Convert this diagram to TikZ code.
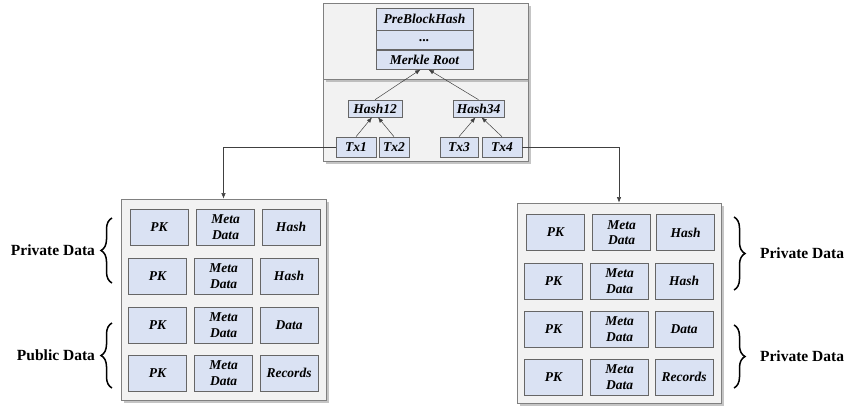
\documentclass[tikz,border=0pt]{standalone}
\usepackage{fontspec}
\setmainfont{Liberation Serif}
\usetikzlibrary{positioning,arrows.meta,calc,shadows,decorations.pathreplacing}
\definecolor{cellblue}{RGB}{218,226,243}
\definecolor{blockgray}{RGB}{242,242,242}

\begin{document}
\begin{tikzpicture}[
  x=1pt, y=-1pt,
  font=\fontsize{13.5}{15.5}\selectfont\bfseries\itshape,
  block/.style={draw=black!50, line width=0.7pt, fill=blockgray, drop shadow={shadow xshift=2.5pt, shadow yshift=-2.5pt, fill=black!45}},
  cell/.style={draw=black!60, line width=0.6pt, fill=cellblue, minimum width=58pt, minimum height=36pt, align=center, inner sep=1pt},
  hdr/.style={draw=black!60, line width=0.6pt, fill=cellblue, minimum width=97pt, inner sep=1pt},
  hnode/.style={draw=black!60, line width=0.6pt, fill=cellblue, minimum height=17pt, inner sep=2pt},
  tx/.style={draw=black!60, line width=0.6pt, fill=cellblue, minimum height=20pt, inner sep=2pt},
  side/.style={font=\fontsize{15.5}{18}\selectfont\bfseries},
  brc/.style={decorate, decoration={brace, amplitude=11pt}, line width=1.5pt},
  arr/.style={-{Latex[length=1.9mm, width=1.5mm]}, line width=0.5pt, draw=black!75}
]
\useasboundingbox (0,0) rectangle (845,407);

%% ---------- Block header (top edge 3, bottom edge 161) ----------
\node[block, minimum width=205pt, minimum height=82pt] (lower) at (425.5,120) {};
\node[block, minimum width=205pt, minimum height=76pt] (upper) at (425.5,41) {};

\node[hdr, minimum height=22pt] (pbh) at (424.5,19) {PreBlockHash};
\node[hdr, minimum height=19pt, below=0pt of pbh] (dots) {...};
\node[hdr, minimum height=19pt, below=0pt of dots] (mroot) {Merkle Root};

\node[hnode, minimum width=54pt] (h12) at (375,108.5) {Hash12};
\node[hnode, minimum width=51pt] (h34) at (478.5,108.5) {Hash34};

\node[tx, minimum width=40pt] (tx1) at (356,147) {Tx1};
\node[tx, minimum width=30pt] (tx2) at (394,147) {Tx2};
\node[tx, minimum width=38pt] (tx3) at (459,147) {Tx3};
\node[tx, minimum width=40pt] (tx4) at (502,147) {Tx4};

% merkle tree
\draw[arr] (h12.north) -- ([xshift=-4pt]mroot.south);
\draw[arr] (h34.north) -- ([xshift=4pt]mroot.south);
\draw[arr] (tx1.north) -- ([xshift=-3pt]h12.south);
\draw[arr] (tx2.north) -- ([xshift=3pt]h12.south);
\draw[arr] (tx3.north) -- ([xshift=-3pt]h34.south);
\draw[arr] (tx4.north) -- ([xshift=3pt]h34.south);

%% ---------- Left data block (top edge 199, bottom edge 400) ----------
\node[block, minimum width=205pt, minimum height=201pt] (lblock) at (223.5,299.5) {};

\node[cell] (l11) at (159,227)   {PK};
\node[cell] (l12) at (225.5,227) {Meta\\Data};
\node[cell] (l13) at (291,227)   {Hash};
\node[cell] (l21) at (157.5,276) {PK};
\node[cell] (l22) at (223.5,276) {Meta\\Data};
\node[cell] (l23) at (289,276)   {Hash};
\node[cell] (l31) at (157.5,325) {PK};
\node[cell] (l32) at (223.5,325) {Meta\\Data};
\node[cell] (l33) at (289,325)   {Data};
\node[cell] (l41) at (157.5,373) {PK};
\node[cell] (l42) at (223.5,373) {Meta\\Data};
\node[cell] (l43) at (289,373)   {Records};

%% ---------- Right data block (top edge 203, bottom edge 403) ----------
\node[block, minimum width=204pt, minimum height=200pt] (rblock) at (619,303) {};

\node[cell] (r11) at (555.5,232.5) {PK};
\node[cell] (r12) at (621.5,232.5) {Meta\\Data};
\node[cell] (r13) at (685.5,232.5) {Hash};
\node[cell] (r21) at (553.5,281)   {PK};
\node[cell] (r22) at (619.5,281)   {Meta\\Data};
\node[cell] (r23) at (684,281)     {Hash};
\node[cell] (r31) at (553.5,329)   {PK};
\node[cell] (r32) at (619.5,329)   {Meta\\Data};
\node[cell] (r33) at (684,329)     {Data};
\node[cell] (r41) at (553.5,377)   {PK};
\node[cell] (r42) at (619.5,377)   {Meta\\Data};
\node[cell] (r43) at (684,377)     {Records};

% connectors: transactions down to the data blocks
\draw[arr] (tx1.west) -| (lblock.north);
\draw[arr] (tx4.east) -| (rblock.north);

%% ---------- Braces ----------
\draw[brc] (112,283) -- (112,218) node[side, midway, left=13pt] (lpriv) {Private Data};
\draw[brc] (112,388) -- (112,323) node[side, midway, left=13pt] (lpub) {Public Data};
\draw[brc] (734,217) -- (734,290) node[side, midway, right=22pt] (rpriv) {Private Data};
\draw[brc] (734,325) -- (734,388) node[side, midway, right=22pt] (rpriv2) {Private Data};

\end{tikzpicture}
\end{document}
